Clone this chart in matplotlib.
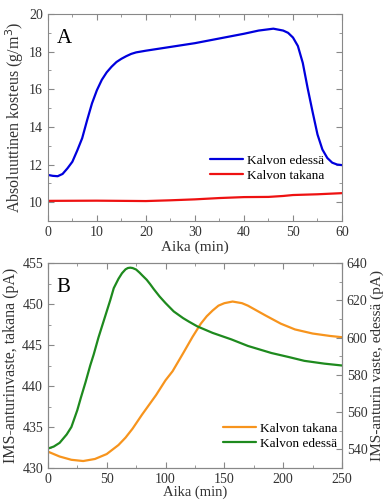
import matplotlib
matplotlib.use('Agg')
import matplotlib.pyplot as plt
from matplotlib.ticker import MultipleLocator

#-----------------Data-------------

# panel A: absolute humidity (g/m3)
t_a = [0, 1, 2, 3, 4, 5, 6, 7, 8, 9, 10, 11, 12, 13, 14, 15, 16, 17, 18, 20,
       25, 30, 35, 40, 43, 46, 48, 49, 50, 51, 52, 53, 54, 55, 56, 57, 58, 59, 60]
edessa_a = [11.45, 11.4, 11.38, 11.5, 11.8, 12.15, 12.75, 13.4, 14.35, 15.25, 15.95,
            16.5, 16.9, 17.2, 17.45, 17.62, 17.76, 17.88, 17.96, 18.05,
            18.25, 18.45, 18.7, 18.95, 19.12, 19.22, 19.12, 19.0, 18.75, 18.3,
            17.4, 16.05, 14.8, 13.6, 12.8, 12.35, 12.1, 12.0, 11.97]
t_a_red = [0, 10, 20, 25, 30, 35, 40, 45, 48, 50, 55, 60]
takana_a = [10.07, 10.08, 10.06, 10.1, 10.15, 10.22, 10.27, 10.28, 10.33, 10.38, 10.42, 10.48]

# panel B: IMS sensor response (pA)
t_b_or = [0, 10, 20, 30, 40, 50, 60, 66, 72, 80, 86, 92, 100, 106, 115, 123, 130,
          135, 140, 145, 150, 157, 165, 170, 175, 185, 198, 210, 225, 240, 250]
takana_b = [432.0, 431.4, 431.0, 430.85, 431.1, 431.7, 432.8, 433.7, 434.8, 436.5,
            437.7, 438.9, 440.7, 441.8, 444.0, 446.0, 447.6, 448.5, 449.2, 449.8,
            450.1, 450.3, 450.1, 449.8, 449.4, 448.6, 447.6, 446.9, 446.4, 446.1, 445.95]
t_b_gr = [0, 5, 10, 16, 20, 25, 28, 32, 36, 39, 43, 47, 50, 53, 56, 60, 63, 66, 68,
          70, 72, 75, 78, 80, 84, 87, 90, 95, 100, 107, 115, 120, 127, 140, 156, 170,
          190, 205, 218, 235, 250]
edessa_b = [540.4, 541.5, 543.5, 548, 552, 561, 567.6, 576, 585, 591, 600, 608, 614,
            620, 626.5, 631.5, 634.5, 636.6, 637.3, 637.5, 637.3, 636.5, 634.8, 633.5,
            631, 628.6, 626, 622, 618.5, 614, 610.4, 608.5, 606, 602.5, 599, 595.5,
            591.7, 589.5, 587.5, 586, 585]

#-----------------Style-------------

plt.rcParams['font.family'] = ['Liberation Serif', 'DejaVu Serif']
plt.rcParams['font.size'] = 10
txt = '#333333'
spine = '#888888'


def style(ax, right=True):
    for s in ax.spines.values():
        s.set_color(spine)
    ax.tick_params(which='both', direction='in', top=True, right=right,
                   colors=spine, labelcolor=txt, labelsize=10)
    ax.tick_params(which='major', length=4)
    ax.tick_params(which='minor', length=2)


line_kw = dict(lw=1.6, solid_joinstyle='round', solid_capstyle='round')
leg_kw = dict(frameon=False, fontsize=9.5, handlelength=2.5, handletextpad=0.3,
              labelspacing=0.2, borderaxespad=0, borderpad=0)

fig = plt.figure(figsize=(3.86, 5.0), dpi=100)

#-----------------Panel A-------------

ax1 = fig.add_axes([0.124, 0.558, 0.762, 0.414])
ax1.plot(t_a, edessa_a, color='#0000dd', label='Kalvon edessä', **line_kw)
ax1.plot(t_a_red, takana_a, color='#ee1111', label='Kalvon takana', **line_kw)
ax1.set_xlim(0, 60)
ax1.set_ylim(9, 20)
ax1.xaxis.set_major_locator(MultipleLocator(10))
ax1.xaxis.set_minor_locator(MultipleLocator(5))
ax1.yaxis.set_major_locator(MultipleLocator(2))
ax1.yaxis.set_minor_locator(MultipleLocator(1))
style(ax1)
ax1.set_xlabel('Aika (min)', fontsize=11, color=txt, labelpad=1)
ax1.set_ylabel('Absoluuttinen kosteus (g/m$^3$)', fontsize=11.5, color=txt, labelpad=2)
ax1.text(0.03, 0.86, 'A', transform=ax1.transAxes, fontsize=15)
ax1.legend(loc='lower right', bbox_to_anchor=(0.94, 0.19), **leg_kw)

#-----------------Panel B-------------

ax2 = fig.add_axes([0.124, 0.064, 0.762, 0.41])
ax3 = ax2.twinx()
l1, = ax2.plot(t_b_or, takana_b, color='#f7941d', label='Kalvon takana', **line_kw)
l2, = ax3.plot(t_b_gr, edessa_b, color='#1e8a1e', label='Kalvon edessä', **line_kw)
ax2.set_xlim(0, 250)
ax2.set_ylim(430, 455)
ax3.set_ylim(530, 640)
ax2.xaxis.set_major_locator(MultipleLocator(50))
ax2.xaxis.set_minor_locator(MultipleLocator(25))
ax2.yaxis.set_major_locator(MultipleLocator(5))
ax2.yaxis.set_minor_locator(MultipleLocator(2.5))
ax3.yaxis.set_major_locator(MultipleLocator(20))
ax3.yaxis.set_minor_locator(MultipleLocator(10))
style(ax2, right=False)
style(ax3)
ax3.tick_params(which='both', left=False, top=False)
ax2.set_xlabel('Aika (min)', fontsize=10.5, color=txt, labelpad=0)
ax2.set_ylabel('IMS-anturinvaste, takana (pA)', fontsize=11.5, color=txt, labelpad=2)
ax3.set_ylabel('IMS-anturin vaste, edessä (pA)', fontsize=11, color=txt, labelpad=2)
ax2.text(0.03, 0.86, 'B', transform=ax2.transAxes, fontsize=15)
ax3.legend([l1, l2], ['Kalvon takana', 'Kalvon edessä'], loc='lower right',
           bbox_to_anchor=(0.985, 0.09), **leg_kw)

fig.savefig('out.png', dpi=100)
